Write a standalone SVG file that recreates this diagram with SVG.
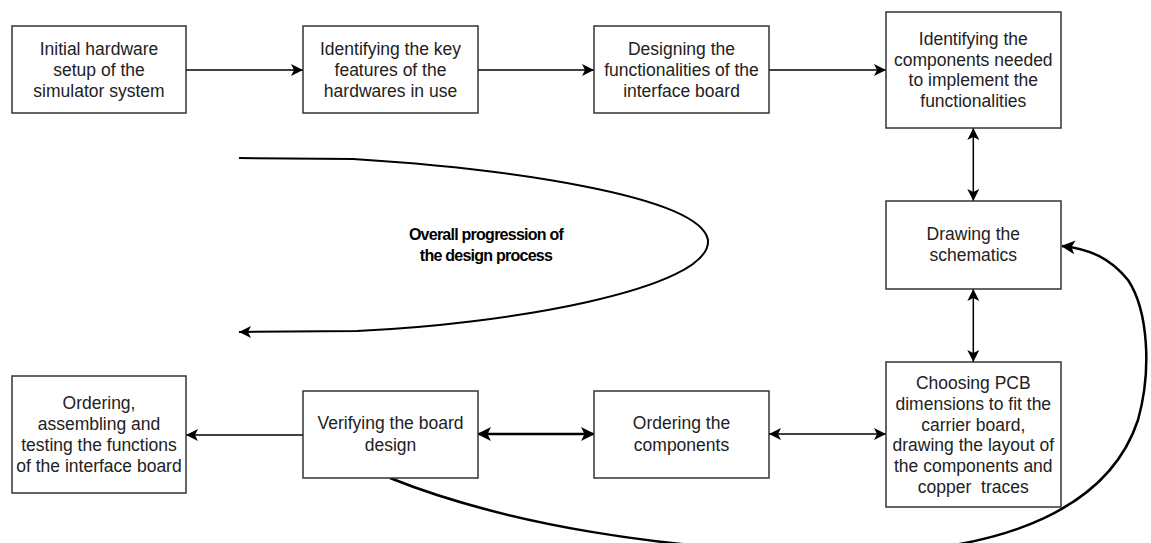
<svg xmlns="http://www.w3.org/2000/svg" width="1151" height="543" viewBox="0 0 1151 543">
  <style>
    .box { fill: #ffffff; stroke: #333333; stroke-width: 1.5; }
    .lbl { font-family: "Liberation Sans", Arial, sans-serif; font-size: 17.5px; fill: #222222; text-anchor: middle; }
    .bold { font-family: "Liberation Sans", Arial, sans-serif; font-size: 16px; font-weight: bold; fill: #000000; text-anchor: middle; letter-spacing: -0.75px; }
    .edge { fill: none; stroke: #000000; stroke-width: 1.5; }
    .thick { fill: none; stroke: #000000; stroke-width: 2.5; }
  </style>
  <defs>
    <marker id="arr" viewBox="-13 -7 14 14" markerWidth="14" markerHeight="14" refX="0" refY="0" orient="auto-start-reverse" markerUnits="userSpaceOnUse">
      <path d="M0,0 L-12,-6 L-9,0 L-12,6 Z" fill="#000000"/>
    </marker>
    <marker id="arrBig" viewBox="-16 -8 17 16" markerWidth="17" markerHeight="16" refX="-1" refY="0" orient="auto-start-reverse" markerUnits="userSpaceOnUse">
      <path d="M0,0 L-14,-7 L-10.5,0 L-14,7 Z" fill="#000000"/>
    </marker>
  </defs>
  <rect width="1151" height="543" fill="#ffffff"/>

  <g id="connectors">
    <line class="edge" x1="186" y1="70" x2="303" y2="70" marker-end="url(#arr)"/>
    <line class="edge" x1="478" y1="70" x2="594" y2="70" marker-end="url(#arr)"/>
    <line class="edge" x1="769" y1="70" x2="886" y2="70" marker-end="url(#arr)"/>
    <line class="edge" x1="973.3" y1="128" x2="973.3" y2="201" marker-start="url(#arr)" marker-end="url(#arr)"/>
    <line class="edge" x1="973.3" y1="289" x2="973.3" y2="362" marker-start="url(#arr)" marker-end="url(#arr)"/>
    <line class="edge" x1="769" y1="434" x2="886" y2="434" marker-start="url(#arr)" marker-end="url(#arr)"/>
    <line class="thick" x1="478" y1="434" x2="594" y2="434" marker-start="url(#arrBig)" marker-end="url(#arrBig)"/>
    <line class="edge" x1="303" y1="435" x2="186" y2="435" marker-end="url(#arr)"/>
    <path class="thick" d="M390,478 C500,522 660,552 850,553 C1010,553 1110,505 1138,420 C1152,370 1148,310 1128,280 C1110,258 1090,249 1062,246" marker-end="url(#arrBig)"/>
    <path class="edge" style="stroke-width:2" d="M239,158 L353,159 C500,168 700,195 708,240 C712,290 500,325 357,331 L239,332" marker-end="url(#arr)"/>
    <text class="bold"><tspan x="486" y="240">Overall progression of</tspan><tspan x="486" y="261">the design process</tspan></text>
  </g>

  <g id="n1">
    <rect class="box" x="12" y="26" width="174" height="87"/>
    <text class="lbl"><tspan x="99" y="55">Initial hardware</tspan><tspan x="99" y="76">setup of the</tspan><tspan x="99" y="97">simulator system</tspan></text>
  </g>
  <g id="n2">
    <rect class="box" x="303" y="26" width="175" height="87"/>
    <text class="lbl"><tspan x="390.5" y="55">Identifying the key</tspan><tspan x="390.5" y="76">features of the</tspan><tspan x="390.5" y="97">hardwares in use</tspan></text>
  </g>
  <g id="n3">
    <rect class="box" x="594" y="26" width="175" height="87"/>
    <text class="lbl"><tspan x="681.5" y="55">Designing the</tspan><tspan x="681.5" y="76">functionalities of the</tspan><tspan x="681.5" y="97">interface board</tspan></text>
  </g>
  <g id="n4">
    <rect class="box" x="886" y="12" width="175" height="116"/>
    <text class="lbl"><tspan x="973.3" y="45">Identifying the</tspan><tspan x="973.3" y="65.5">components needed</tspan><tspan x="973.3" y="86">to implement the</tspan><tspan x="973.3" y="106.5">functionalities</tspan></text>
  </g>
  <g id="n5">
    <rect class="box" x="886" y="201" width="175" height="88"/>
    <text class="lbl"><tspan x="973.3" y="240">Drawing the</tspan><tspan x="973.3" y="261">schematics</tspan></text>
  </g>
  <g id="n6">
    <rect class="box" x="886" y="362" width="175" height="145"/>
    <text class="lbl" xml:space="preserve"><tspan x="973.3" y="389.3">Choosing PCB</tspan><tspan x="973.3" y="410">dimensions to fit the</tspan><tspan x="973.3" y="430.7">carrier board,</tspan><tspan x="973.3" y="451.4">drawing the layout of</tspan><tspan x="973.3" y="472">the components and</tspan><tspan x="973.3" y="492.7">copper  traces</tspan></text>
  </g>
  <g id="n7">
    <rect class="box" x="594" y="391" width="175" height="87"/>
    <text class="lbl"><tspan x="681.5" y="429">Ordering the</tspan><tspan x="681.5" y="450.5">components</tspan></text>
  </g>
  <g id="n8">
    <rect class="box" x="303" y="391" width="175" height="87"/>
    <text class="lbl"><tspan x="390.5" y="429">Verifying the board</tspan><tspan x="390.5" y="450.5">design</tspan></text>
  </g>
  <g id="n9">
    <rect class="box" x="12" y="376" width="174" height="117"/>
    <text class="lbl"><tspan x="99" y="409.3">Ordering,</tspan><tspan x="99" y="430">assembling and</tspan><tspan x="99" y="451">testing the functions</tspan><tspan x="99" y="471.7">of the interface board</tspan></text>
  </g>
</svg>
